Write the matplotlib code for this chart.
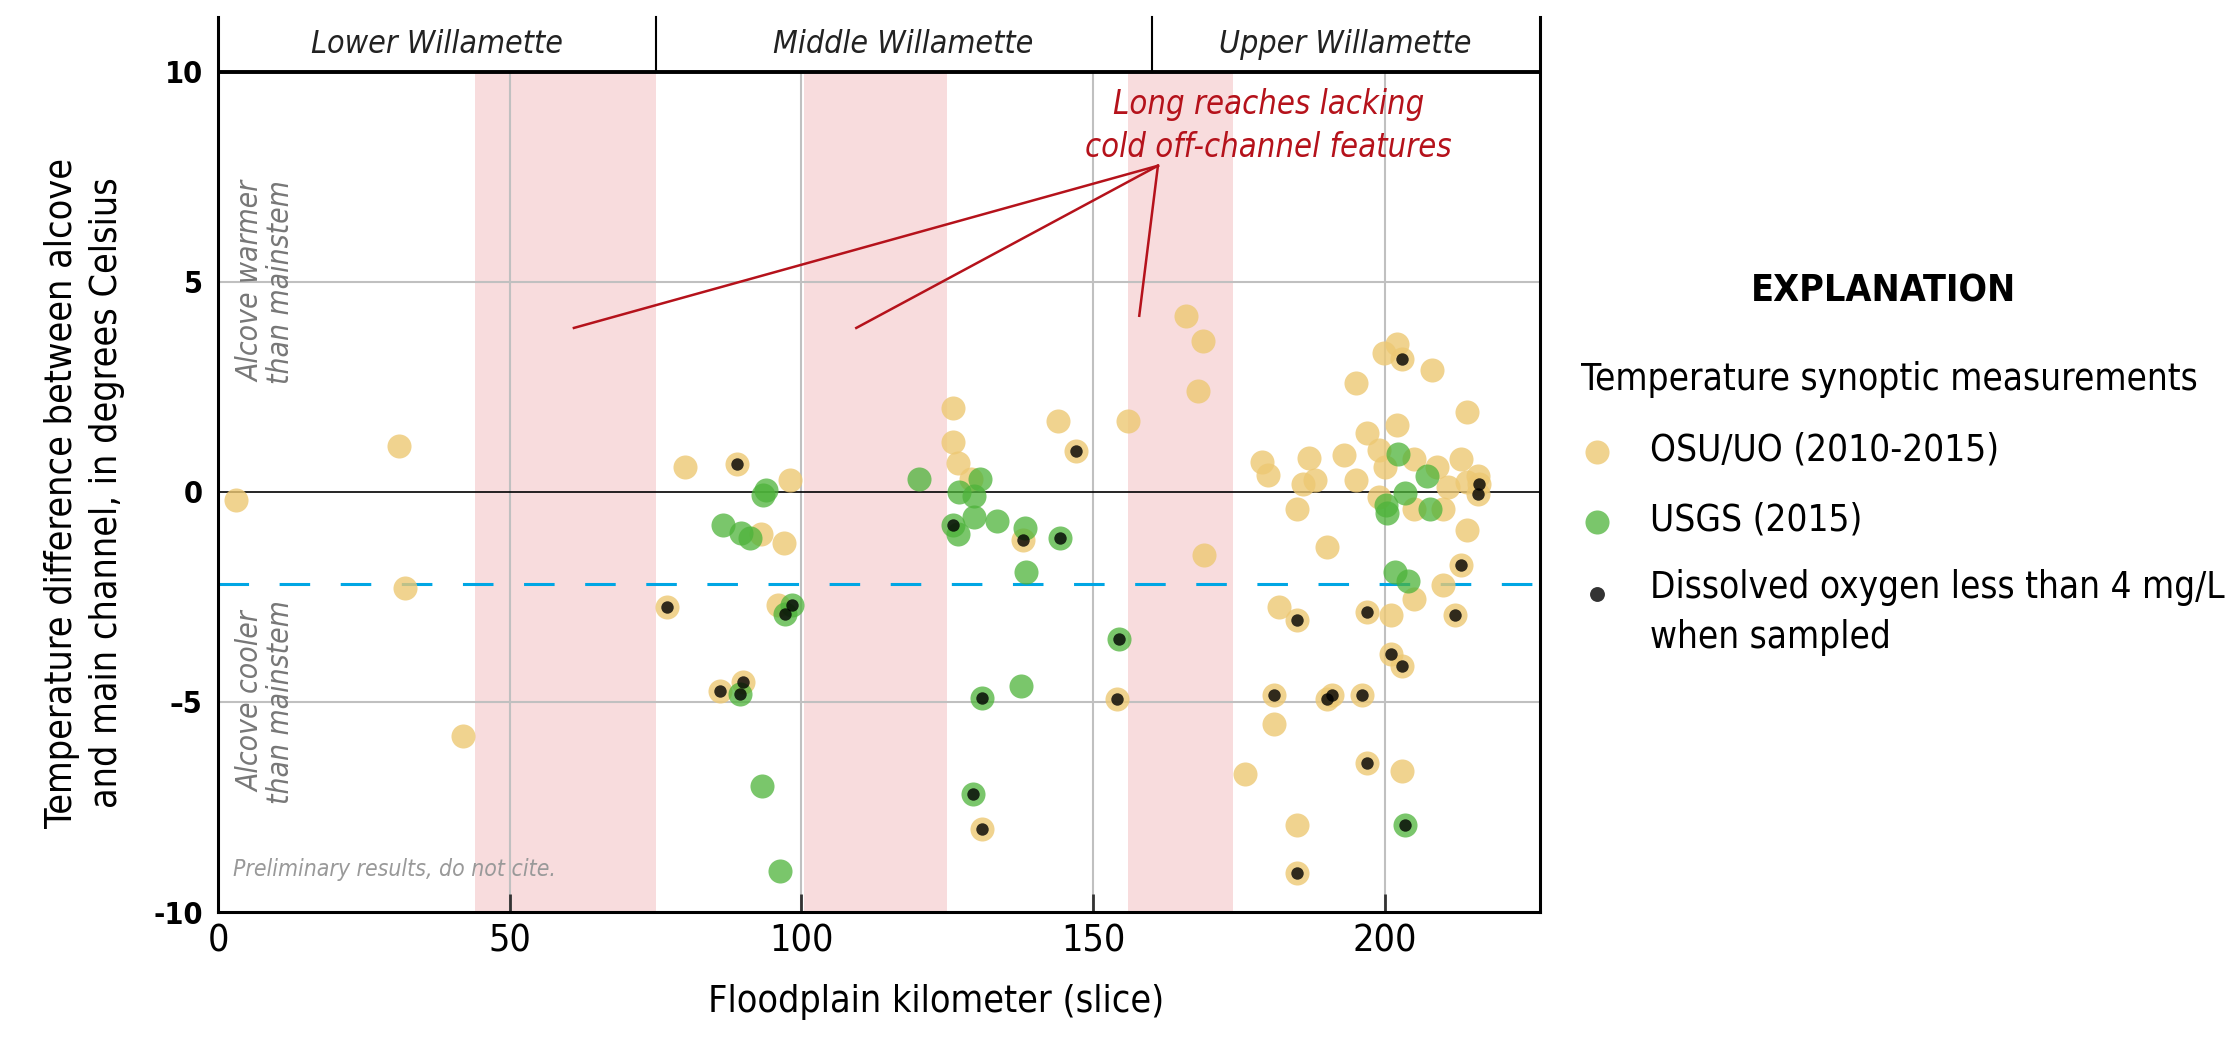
"""
Différence de température alcôve / chenal principal le long de la Willamette
"""

import matplotlib.pyplot as plt
from matplotlib import font_manager as fm

# Données (km de plaine alluviale, écart en degrés C)
osu_x = [3.0, 31.0, 32.0, 42.0, 77.0, 80.0, 86.0, 89.0, 90.0, 93.0, 95.9, 97.0, 98.0,
         125.9, 125.9, 126.9, 129.0, 131.0, 138.0, 143.9, 147.0, 154.0, 155.9,
         165.9, 168.9, 167.9, 169.0, 176.0, 179.0, 180.0, 181.0, 181.0, 181.9,
         185.0, 185.0, 185.0, 185.0, 186.0, 187.0, 188.0, 190.0, 190.0, 191.0,
         193.0, 195.0, 195.0, 196.0, 197.0, 197.0, 197.0, 199.0, 199.0, 199.8,
         200.0, 201.0, 201.0, 202.0, 202.0, 203.0, 203.0, 203.0, 205.0, 205.0,
         205.0, 208.0, 209.0, 210.0, 210.0, 210.8, 212.0, 213.0, 213.0, 214.0,
         214.0, 214.0, 216.0, 216.2, 216.0]
osu_y = [-0.2, 1.08, -2.3, -5.82, -2.73, 0.59, -4.74, 0.67, -4.53, -1.01, -2.7, -1.22, 0.29,
         1.99, 1.19, 0.69, 0.30, -8.03, -1.14, 1.69, 0.97, -4.92, 1.69,
         4.19, 3.59, 2.39, -1.5, -6.72, 0.70, 0.39, -4.84, -5.53, -2.73,
         -3.04, -0.40, -7.93, -9.07, 0.19, 0.80, 0.28, -1.31, -4.94, -4.84,
         0.88, 2.59, 0.29, -4.84, 1.39, -2.86, -6.46, 0.99, -0.12, 3.30,
         0.58, -2.92, -3.85, 3.52, 1.58, 3.16, -4.15, -6.64, 0.78, -0.42,
         -2.55, 2.89, 0.58, -0.42, -2.22, 0.12, -2.94, 0.79, -1.75, 1.89,
         0.24, -0.92, 0.37, 0.19, -0.05]
osu_low_do = [0, 0, 0, 0, 1, 0, 1, 1, 1, 0, 0, 0, 0,
              0, 0, 0, 0, 1, 1, 0, 1, 1, 0,
              0, 0, 0, 0, 0, 0, 0, 1, 0, 0,
              1, 0, 0, 1, 0, 0, 0, 0, 1, 1,
              0, 0, 0, 1, 0, 1, 1, 0, 0, 0,
              0, 0, 1, 0, 0, 1, 1, 0, 0, 0,
              0, 0, 0, 0, 0, 0, 1, 0, 1, 0,
              0, 0, 0, 1, 1]

usgs_x = [86.6, 89.6, 91.1, 93.9, 93.4, 89.4, 93.3, 96.4, 97.1, 98.4,
          120.1, 127.0, 129.6, 130.6, 129.6, 126.0, 126.9, 133.5, 138.4, 138.5,
          144.3, 137.7, 131.0, 129.4, 154.5,
          202.3, 203.5, 207.3, 200.2, 200.3, 207.7, 201.8, 204.0, 203.4]
usgs_y = [-0.8, -0.98, -1.09, 0.04, -0.08, -4.81, -7.0, -9.02, -2.9, -2.69,
          0.31, 0.0, -0.1, 0.31, -0.61, -0.8, -1.01, -0.69, -0.86, -1.9,
          -1.1, -4.61, -4.9, -7.2, -3.5,
          0.91, -0.02, 0.38, -0.31, -0.51, -0.41, -1.9, -2.12, -7.93]
usgs_low_do = [0, 0, 0, 0, 0, 1, 0, 0, 1, 1,
               0, 0, 0, 0, 0, 1, 0, 0, 0, 0,
               1, 0, 1, 1, 1,
               0, 0, 0, 0, 0, 0, 0, 0, 1]

pink_reaches = [(44, 75), (100.5, 125), (156, 174)]
region_bounds = [0, 75, 160, 226.5]
region_names = ['Lower Willamette', 'Middle Willamette', 'Upper Willamette']
x_ticks = [0, 50, 100, 150, 200]
y_ticks = [-10, -5, 0, 5, 10]
y_tick_labels = ['-10', '–5', '0', '5', '10']
threshold = -2.2

# Couleurs
YELLOW = '#EDC873'
GREEN = '#4DB33A'
PINK = '#F8DCDD'
GRID = '#C0C0C0'
RED = '#B5121B'

# Police étroite si disponible
names = {f.name for f in fm.fontManager.ttflist}
if 'Liberation Sans Narrow' in names:
    NARROW = dict(family='Liberation Sans Narrow')
else:
    NARROW = dict(family='DejaVu Sans', stretch='condensed')

fig = plt.figure(figsize=(22.35, 10.4), dpi=100)
W, H = 2235, 1040
ax = fig.add_axes([218 / W, 1 - 912 / H, (1539.5 - 218) / W, (912 - 17) / H])
ax.set_xlim(0, 226.5)
ax.set_ylim(-10, 11.3)

# Bandes roses : longs tronçons sans zones froides
for a, b in pink_reaches:
    ax.fill_betweenx([-10, 10], a, b, color=PINK, lw=0, zorder=0)

# Grille
for x in x_ticks[1:]:
    ax.plot([x, x], [-10, 10], color=GRID, lw=1.5, zorder=1)
for y in [-5, 5]:
    ax.axhline(y, color=GRID, lw=1.5, zorder=1)
ax.axhline(0, color='black', lw=1.2, zorder=1)
ax.axhline(10, color='black', lw=2.8, zorder=3)
ax.axhline(threshold, color='#00A6E4', lw=2.2, ls=(0, (10, 10)), zorder=2)

# Bandeau des régions
for xb in region_bounds[1:-1]:
    ax.plot([xb, xb], [10, 11.3], color='black', lw=1.5, zorder=3, clip_on=False)
for i, name in enumerate(region_names):
    xc = (region_bounds[i] + region_bounds[i + 1]) / 2
    ax.text(xc, 10.65, name, ha='center', va='center', fontsize=23,
            style='italic', color='#222222', **NARROW)

# Points
ax.scatter(osu_x, osu_y, s=300, color=YELLOW, alpha=0.8, lw=0, zorder=4)
ax.scatter(usgs_x, usgs_y, s=300, color=GREEN, alpha=0.75, lw=0, zorder=5)
do_x = [x for x, f in zip(osu_x, osu_low_do) if f] + [x for x, f in zip(usgs_x, usgs_low_do) if f]
do_y = [y for y, f in zip(osu_y, osu_low_do) if f] + [y for y, f in zip(usgs_y, usgs_low_do) if f]
ax.scatter(do_x, do_y, s=80, color='black', alpha=0.8, lw=0, zorder=6)

# Annotation
apex = (161.1, 7.76)
for ex, ey in [(61.0, 3.9), (109.4, 3.9), (157.9, 4.19)]:
    ax.plot([ex, apex[0]], [ey, apex[1]], color=RED, lw=1.8, zorder=3)
ax.text(180, 8.7, 'Long reaches lacking\ncold off-channel features', ha='center',
        va='center', fontsize=23.5, style='italic', color=RED, linespacing=1.4, **NARROW)

ax.text(8.2, 5.0, 'Alcove warmer\nthan mainstem', rotation=90, ha='center', va='center',
        fontsize=21.5, style='italic', color='#777777', linespacing=1.05, **NARROW)
ax.text(8.2, -5.0, 'Alcove cooler\nthan mainstem', rotation=90, ha='center', va='center',
        fontsize=21.5, style='italic', color='#777777', linespacing=1.05, **NARROW)
ax.text(2.6, -9.0, 'Preliminary results, do not cite.', ha='left', va='center',
        fontsize=16.5, style='italic', color='#999999', **NARROW)

# Axes
for side in ['left', 'right', 'bottom']:
    ax.spines[side].set_linewidth(2.2)
    ax.spines[side].set_color('black')
ax.spines['top'].set_visible(False)
ax.set_xticks(x_ticks)
ax.set_xticklabels([str(t) for t in x_ticks], fontsize=27, **NARROW)
ax.tick_params(axis='x', direction='in', length=13, width=2, color='#333333', pad=8)
ax.set_yticks(y_ticks)
ax.set_yticklabels(y_tick_labels, fontsize=22, fontweight='bold',
                   family='DejaVu Sans', stretch='condensed')
ax.tick_params(axis='y', length=0, pad=11)

fig.text(84.5 / W, 1 - 493 / H,
         'Temperature difference between alcove\nand main channel, in degrees Celsius',
         rotation=90, ha='center', va='center', fontsize=27, linespacing=1.3,
         multialignment='center', **NARROW)
fig.text(936.6 / W, 1 - 1002 / H, 'Floodplain kilometer (slice)', ha='center',
         va='center', fontsize=27, **NARROW)

# Légende (EXPLANATION)
leg = fig.add_axes([0, 0, 1, 1], facecolor='none')
leg.set_xlim(0, W)
leg.set_ylim(H, 0)
leg.axis('off')
leg.text(1884, 292, 'EXPLANATION', ha='center', va='center', fontsize=27,
         fontweight='bold', **NARROW)
leg.text(1581, 380, 'Temperature synoptic measurements', ha='left', va='center',
         fontsize=26.5, **NARROW)
leg.scatter([1597], [452], s=300, color=YELLOW, alpha=0.8, lw=0)
leg.text(1650, 450, 'OSU/UO (2010-2015)', ha='left', va='center', fontsize=26.5, **NARROW)
leg.scatter([1597], [522], s=300, color=GREEN, alpha=0.75, lw=0)
leg.text(1650, 520, 'USGS (2015)', ha='left', va='center', fontsize=26.5, **NARROW)
leg.scatter([1597], [594], s=115, color='black', alpha=0.8, lw=0)
leg.text(1650, 588, 'Dissolved oxygen less than 4 mg/L', ha='left', va='center',
         fontsize=26.5, **NARROW)
leg.text(1650, 638, 'when sampled', ha='left', va='center', fontsize=26.5, **NARROW)

plt.savefig('out.png', dpi=100)
plt.close()
